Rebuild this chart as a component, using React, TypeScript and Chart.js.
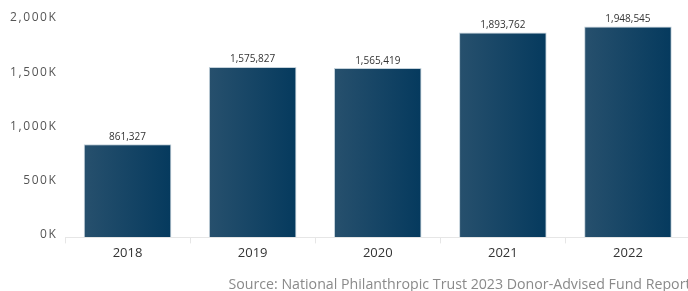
import React, { useEffect, useRef } from "react";
import { Chart, registerables } from "chart.js";

Chart.register(...registerables);

const categories = ["2018", "2019", "2020", "2021", "2022"];
const grantValues = [861327, 1575827, 1565419, 1893762, 1948545];
const yTickValues = [0, 500000, 1000000, 1500000, 2000000];
const yTickLabels = ["0K", "500K", "1,000K", "1,500K", "2,000K"];
const sourceText = "Source: National Philanthropic Trust 2023 Donor-Advised Fund Report";

const FONT = '"Open Sans", "Noto Sans", sans-serif';
const CAT_PCT = 0.7;

const barLabelsPlugin = {
  id: "barLabels",
  afterDatasetsDraw(chart: any) {
    const ctx = chart.ctx;
    const meta = chart.getDatasetMeta(0);
    ctx.save();
    ctx.font = `10px ${FONT}`;
    ctx.fillStyle = "#333333";
    ctx.textAlign = "center";
    ctx.textBaseline = "alphabetic";
    meta.data.forEach((el: any, i: number) => {
      ctx.fillText(grantValues[i].toLocaleString("en-US"), el.x, el.y - 4.5);
    });
    ctx.restore();
  },
};

const yLabelsPlugin = {
  id: "yLabels",
  afterDraw(chart: any) {
    const ctx = chart.ctx;
    const ys = chart.scales.y;
    ctx.save();
    ctx.font = `12px ${FONT}`;
    (ctx as any).letterSpacing = "1.6px";
    ctx.fillStyle = "#555555";
    ctx.textAlign = "right";
    ctx.textBaseline = "middle";
    yTickValues.forEach((v, i) => {
      ctx.fillText(yTickLabels[i], ys.right - 7.5, ys.getPixelForValue(v) - 3);
    });
    ctx.restore();
  },
};

export default function App() {
  const ref = useRef<HTMLCanvasElement>(null);
  useEffect(() => {
    document.body.style.margin = "0";
    const canvas = ref.current!;
    const chart = new Chart(canvas, {
      type: "bar",
      data: {
        labels: categories,
        datasets: [
          {
            data: grantValues,
            categoryPercentage: CAT_PCT,
            barPercentage: 1,
            borderWidth: 1,
            borderColor: "rgba(190,205,215,0.9)",
            backgroundColor: (c: any) => {
              const ch = c.chart;
              const xs = ch.scales?.x;
              if (!xs || c.dataIndex == null || !isFinite(xs.width)) return "#15456a";
              const center = xs.getPixelForValue(c.dataIndex);
              const hw = (xs.width / categories.length) * CAT_PCT / 2;
              const g = ch.ctx.createLinearGradient(center - hw, 0, center + hw, 0);
              g.addColorStop(0, "#27506d");
              g.addColorStop(1, "#053a5e");
              return g;
            },
          },
        ],
      },
      options: {
        responsive: false,
        animation: false,
        layout: { padding: { top: 21, right: 1.5, left: 0, bottom: 0 } },
        plugins: {
          legend: { display: false },
          tooltip: { enabled: false },
          title: {
            display: true,
            text: sourceText,
            position: "bottom",
            align: "end",
            color: "#8a8a8a",
            font: { family: FONT, size: 14.2, weight: "normal" },
            padding: { top: 13, bottom: -2 },
          },
        },
        scales: {
          x: {
            grid: {
              display: true,
              drawOnChartArea: false,
              drawTicks: true,
              tickLength: 6,
              color: "#e6e6e6",
            },
            border: { display: true, color: "#e6e6e6" },
            ticks: {
              color: "#333333",
              font: { family: FONT, size: 13 },
              padding: 2,
            },
          },
          y: {
            min: 0,
            max: 2000000,
            ticks: { display: false },
            grid: { display: false },
            border: { display: false },
            afterFit: (s: any) => {
              s.width = 65;
            },
          },
        },
      },
      plugins: [barLabelsPlugin, yLabelsPlugin],
    });
    return () => chart.destroy();
  }, []);
  return (
    <div style={{ width: 688, height: 291, overflow: "hidden" }}>
      <canvas ref={ref} width={692} height={291} style={{ display: "block" }} />
    </div>
  );
}
